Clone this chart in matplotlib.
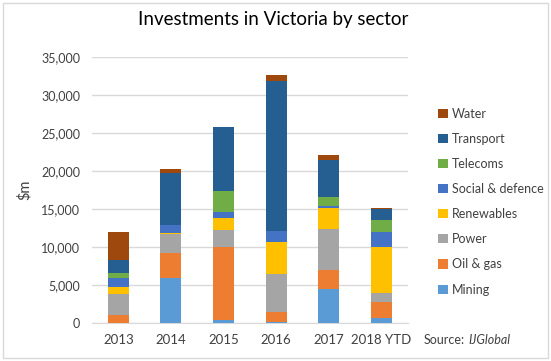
import numpy as np
import matplotlib.pyplot as plt
from matplotlib.patches import Rectangle

years = ["2013", "2014", "2015", "2016", "2017", "2018 YTD"]
sectors = ["Mining", "Oil & gas", "Power", "Renewables",
           "Social & defence", "Telecoms", "Transport", "Water"]

mining = [0, 6000, 430, 210, 4470, 740]
oil_gas = [1130, 3290, 9650, 1320, 2540, 2100]
power = [2690, 2420, 2200, 4960, 5400, 1190]
renewables = [1000, 210, 1540, 4210, 2800, 6050]
social = [1150, 1010, 870, 1440, 270, 1970]
telecoms = [620, 0, 2720, 0, 1180, 1540]
transport = [1750, 6810, 8460, 19780, 4830, 1410]
water = [3650, 520, 0, 750, 610, 210]

series = [mining, oil_gas, power, renewables, social, telecoms, transport, water]
colors = ["#5B9BD5", "#ED7D31", "#A5A5A5", "#FFC000",
          "#4472C4", "#70AD47", "#255E91", "#9E480E"]

plt.rcParams["font.family"] = ["Lato", "DejaVu Sans"]

fig = plt.figure(figsize=(5.51, 3.61), dpi=100)
ax = fig.add_axes([0.167, 0.1044, 0.573, 0.7369])

x = np.arange(len(years))
bottom = np.zeros(len(years))
handles = []
for name, vals, c in zip(sectors, series, colors):
    b = ax.bar(x, vals, 0.4, bottom=bottom, color=c, label=name, zorder=3)
    handles.append(b)
    bottom += np.array(vals)

ax.set_xlim(-0.5, len(years) - 0.5)
ax.set_ylim(0, 35000)
ax.set_yticks(np.arange(0, 35001, 5000))
ax.set_yticklabels([f"{v:,}" for v in range(0, 35001, 5000)])
ax.set_xticks(x)
ax.set_xticklabels(years)
ax.yaxis.grid(True, color="#D9D9D9", linewidth=1, zorder=0)
for s in ["top", "right", "left"]:
    ax.spines[s].set_visible(False)
ax.spines["bottom"].set_color("#D9D9D9")
ax.tick_params(axis="both", length=0, colors="#404040")
ax.tick_params(axis="x", pad=8, labelsize=9.5)
ax.tick_params(axis="y", pad=8.5, labelsize=9)
ax.set_ylabel("$m", fontsize=10.5, color="#404040", labelpad=7)

fig.text(0.496, 0.945, "Investments in Victoria by sector", ha="center",
         va="center", fontsize=13.5, color="#000000")

leg = fig.legend(handles[::-1], sectors[::-1], loc="upper left",
                 bbox_to_anchor=(0.775, 0.733), frameon=False, fontsize=9,
                 handlelength=0.75, handleheight=0.75, handletextpad=0.35,
                 labelspacing=1.05, labelcolor="#404040")

fig.text(0.768, 0.058, "Source:", fontsize=9, color="#404040", va="center")
fig.text(0.85, 0.058, "IJGlobal", fontsize=9, color="#404040",
         va="center", style="italic")

fig.patches.append(Rectangle((0.006, 0.008), 0.988, 0.984,
                             transform=fig.transFigure, fill=False,
                             edgecolor="#D9D9D9", linewidth=1))

fig.savefig("out.png", dpi=100)
